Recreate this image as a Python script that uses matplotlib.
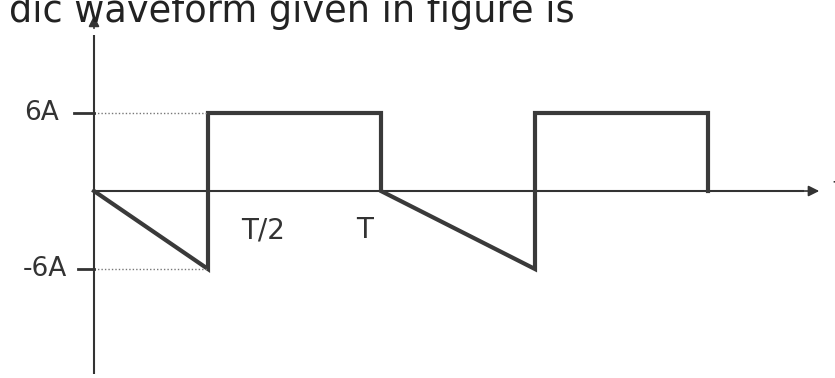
import matplotlib
matplotlib.use("Agg")
import matplotlib.pyplot as plt

# waveform data (time in arbitrary units, current in A)
times = [0, 1.14, 1.14, 2.87, 2.87, 4.41, 4.41, 6.14, 6.14]
current = [0, -6, 6, 6, 0, -6, 6, 6, 0]
level_labels = ["6A", "-6A"]
level_values = [6, -6]
time_labels = ["T/2", "T"]
time_label_pos = [1.69, 2.71]
title_text = "dic waveform given in figure is"

INK = "#333333"
plt.rcParams['font.family'] = ['DejaVu Sans']

fig = plt.figure(figsize=(8.35, 3.78), dpi=100)
ax = fig.add_axes([0, 0, 1, 1])
ax.set_xlim(-0.94, 7.41)
ax.set_ylim(-14.38, 14.69)
ax.axis('off')

# axes with arrows
ax.plot([0, 0], [-14.08, 12.0], color=INK, lw=1.5, solid_capstyle='butt')
ax.annotate("", xy=(0, 13.7), xytext=(0, 12.3),
            arrowprops=dict(arrowstyle='-|>', color=INK, lw=1.2, mutation_scale=16))
ax.plot([0, 7.1], [0, 0], color=INK, lw=1.5, solid_capstyle='butt')
ax.annotate("", xy=(7.28, 0), xytext=(7.05, 0),
            arrowprops=dict(arrowstyle='-|>', color=INK, lw=1.2, mutation_scale=16))

# waveform
ax.plot(times, current, color="#3a3a3a", lw=3.0, solid_joinstyle='miter')

# dotted guides and ticks
for v, tl in zip(level_values, [-0.2, -0.16]):
    ax.plot([0, times[1]], [v, v], color="#777777", lw=1.0, linestyle=(0, (1, 1.5)))
    ax.plot([tl, 0], [v, v], color=INK, lw=2.0)

ax.text(-0.52, 6, level_labels[0], ha='center', va='center', fontsize=19, color=INK)
ax.text(-0.49, -6, level_labels[1], ha='center', va='center', fontsize=19, color=INK)

for lab, xp in zip(time_labels, time_label_pos):
    ax.text(xp, -3.0, lab, ha='center', va='center', fontsize=20, color=INK)

# cut-off axis label on the right edge
ax.text(7.38, 0.3, "t", ha='left', va='center', fontsize=16, color=INK)

# title fragment at top
ax.text(5.75 - 0.94, 14.69 - 22 / 13.0, title_text, ha='right', va='baseline',
        fontsize=26.5, color="#222222")

fig.savefig("out.png", dpi=100)
